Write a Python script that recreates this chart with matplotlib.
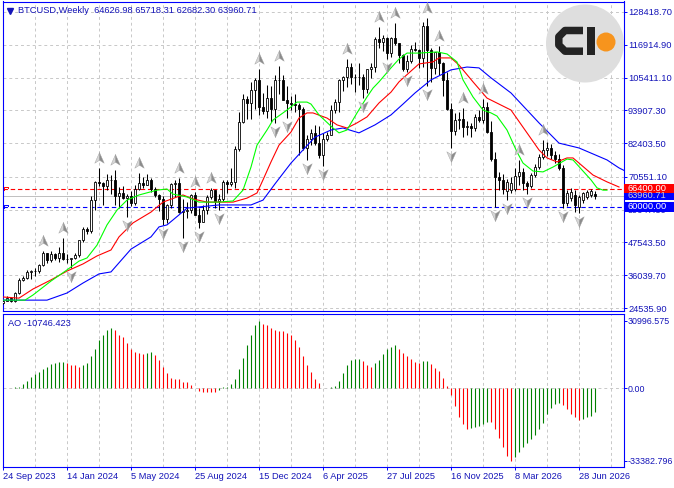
import numpy as np
import matplotlib.pyplot as plt
import matplotlib.transforms as mtransforms
from matplotlib.path import Path
from matplotlib.patches import Circle, Rectangle

plt.rcParams['font.family'] = ['Liberation Sans', 'DejaVu Sans']

# weekly BTCUSD bars, bar 0 = week of 24 Sep 2023
opens = [26300, 27000, 27900, 26900, 29900, 34500, 35000, 37100, 37400, 37500,
         39500, 43800, 41400, 43600, 42200, 43900, 41700, 41600, 42000, 43000,
         48300, 52100, 51700, 62400, 68900, 68400, 67200, 69600, 69300, 63900,
         64900, 63100, 63900, 61500, 66300, 68500, 67700, 69600, 66200, 64300,
         62700, 55900, 60800, 68200, 68300, 58100, 58700, 59000, 64200, 57300,
         54800, 59100, 63600, 65800, 62000, 62900, 68900, 67900, 68700, 80400,
         89900, 98000, 96400, 101200, 104500, 95200, 93700, 98400, 94500, 104400,
         104700, 97700, 96500, 96100, 95800, 94300, 80700, 84000, 86100, 82400,
         78400, 83800, 85100, 94000, 96900, 104600, 105500, 109000, 105700, 105600,
         105500, 101400, 108300, 109200, 119000, 117900, 119400, 114200, 119300, 117400,
         113500, 108300, 111100, 115300, 115200, 112100, 123500, 115200, 108600, 114500,
         110500, 104700, 94200, 86800, 90400, 90900, 88000, 88300, 87700, 91700,
         90500, 95200, 86400, 76800, 70600, 69300, 65600, 66100, 66300, 71000,
         72400, 68300, 67400, 71200, 74100, 77700, 80000, 80800, 78200, 77000,
         73600, 61400, 63300, 64200, 60100, 62400, 63600, 64300, 64626.98]
highs = [27400, 28600, 28100, 30300, 35200, 35900, 37900, 37900, 38400, 40000,
         44700, 44000, 44400, 43800, 45900, 49000, 43500, 42200, 43800, 48500,
         52800, 52900, 64000, 69000, 73800, 68900, 71700, 71300, 72800, 66900,
         67200, 64700, 65500, 67700, 71900, 70600, 71600, 70200, 66900, 64500,
         63800, 61000, 68400, 69400, 70000, 62700, 61800, 64500, 65100, 59800,
         60600, 64100, 66500, 66100, 64500, 69400, 69500, 73600, 81500, 93400,
         99500, 98900, 103900, 105300, 108300, 99900, 102700, 102500, 106400, 109600,
         106400, 102500, 98800, 99500, 96500, 95000, 85300, 87400, 88800, 88500,
         86100, 86400, 95800, 97900, 105000, 105800, 111900, 110400, 106700, 110600,
         106600, 108500, 110500, 119500, 123200, 120200, 119800, 119500, 124500, 117600,
         113600, 113400, 116800, 117900, 115500, 125000, 126200, 115900, 114000, 116400,
         110700, 107500, 96600, 93100, 93200, 94600, 90000, 89500, 92500, 94000,
         97900, 97000, 90000, 79200, 72300, 71500, 69800, 70500, 73500, 76500,
         73500, 69200, 72000, 75000, 78600, 83600, 82800, 82000, 79500, 78500,
         74800, 66000, 66500, 65800, 64200, 65200, 66000, 66400, 65718.31]
lows = [26000, 26900, 26600, 26800, 29600, 33900, 34600, 34800, 35700, 36900,
        39200, 40200, 40600, 41500, 40800, 41500, 40300, 38500, 41800, 42300,
        47700, 50600, 50900, 59000, 67500, 60800, 66000, 64500, 60700, 59600,
        62800, 56500, 60200, 60800, 66100, 66600, 67600, 65100, 63400, 58500,
        53500, 54300, 59800, 63400, 58000, 49000, 56100, 57800, 57200, 52600,
        54600, 57600, 62700, 59800, 58900, 62000, 65000, 67500, 66800, 79500,
        89400, 90800, 91000, 94200, 92200, 92500, 91300, 89900, 89300, 99500,
        97400, 91200, 94100, 93300, 78200, 80000, 76600, 81800, 81600, 77200,
        74400, 83000, 85100, 92800, 93400, 100700, 102100, 103000, 100400, 102700,
        98200, 100000, 105100, 107400, 115800, 114700, 112000, 112700, 116800, 110600,
        107600, 107200, 110600, 114600, 108600, 109000, 102500, 104000, 106700, 106300,
        98900, 94000, 80600, 85300, 87200, 84700, 85300, 84500, 86800, 89900,
        89500, 85800, 76000, 60000, 65800, 64500, 62400, 65000, 65500, 67600,
        66000, 64600, 66800, 70500, 73200, 76900, 77800, 77000, 75300, 72800,
        59500, 60200, 62000, 58300, 57900, 61500, 62800, 63600, 62682.30]
closes = [27000, 27900, 26900, 29900, 34500, 35000, 37100, 37400, 37500, 39500,
          43800, 41400, 43600, 42200, 43900, 41700, 41600, 42000, 43000, 48300,
          52100, 51700, 62400, 68900, 68400, 67200, 69600, 69300, 63900, 64900,
          63100, 63900, 61500, 66300, 68500, 67700, 69600, 66200, 64300, 62700,
          55900, 60800, 68200, 68300, 58100, 58700, 59000, 64200, 57300, 54800,
          59100, 63600, 65800, 62000, 62900, 68900, 67900, 68700, 80400, 89900,
          98000, 96400, 101200, 104500, 95200, 93700, 98400, 94500, 104400, 104700,
          97700, 96500, 96100, 95800, 94300, 80700, 84000, 86100, 82400, 78400,
          83800, 85100, 94000, 96900, 104600, 105500, 109000, 105700, 105600, 105500,
          101400, 108300, 109200, 119000, 117900, 119400, 114200, 119300, 117400, 113500,
          108300, 111100, 115300, 115200, 112100, 123500, 115200, 108600, 114500, 110500,
          104700, 94200, 86800, 90400, 90900, 88000, 88300, 87700, 91700, 90500,
          95200, 86400, 76800, 70600, 69300, 66400, 68900, 68300, 71000, 72400,
          68300, 67400, 71200, 74100, 77700, 80000, 80800, 78200, 77000, 73600,
          61400, 64800, 65400, 60700, 63600, 64800, 65400, 65600, 63960.71]

# Awesome Oscillator values per bar
ao = [50, 100, 150, 400, 770, 2000, 3550, 5400, 6630, 7710,
      8940, 10020, 11100, 11570, 12030, 12180, 11570, 10790, 10490, 10020,
      10790, 11870, 14650, 18200, 22360, 24360, 26990, 27760, 26990, 24670,
      23440, 20820, 18200, 16500, 16190, 15880, 16190, 16500, 15420, 12800,
      10020, 6940, 4630, 4320, 4200, 3080, 3000, 1540, -100, -1230,
      -1540, -1700, -1850, -1900, -770, 460, 770, 2000, 4470, 8940,
      13880, 19740, 24670, 28990, 30996.575, 29760, 28990, 27760, 26990, 26520,
      26370, 25440, 24670, 22360, 18810, 14650, 10790, 7710, 4320, 2620,
      200, 300, 600, 1080, 3390, 6940, 10790, 13110, 13420, 13570,
      12640, 10790, 10020, 11570, 13110, 15730, 18040, 18970, 19740, 18200,
      16190, 14650, 13570, 12030, 11570, 12340, 12640, 11260, 9250, 8170,
      4930, 1080, -3080, -8020, -13420, -16500, -18970, -18500, -18040, -17420,
      -16500, -15420, -15730, -18810, -23130, -26990, -31150, -33382.796, -31610, -29300,
      -27290, -25440, -23590, -21590, -18970, -16190, -12030, -8940, -7400, -6940,
      -7710, -9710, -11870, -13110, -14650, -14340, -13420, -12640, -10746.423]

# Alligator lines (bar index, price)
jaw_idx = [0, 11, 16, 20, 24, 27, 32, 37, 39, 41, 44, 46, 49, 54, 62, 65, 68, 72, 75, 78,
           82, 85, 89, 93, 97, 100, 103, 107, 112, 116, 119, 122, 127, 134, 139, 144, 147, 151, 154, 156]
jaw = [27300, 27300, 29800, 33300, 36500, 37200, 45200, 49500, 53000, 53700, 57200, 59600, 60000,
       60700, 60700, 62400, 68100, 75400, 80000, 84500, 87000, 87700, 86000, 88800, 92300, 96100,
       100000, 104600, 108100, 109100, 108800, 105300, 100000, 89500, 82400, 80700, 78900, 76500,
       73700, 72300]
teeth_idx = [0, 4, 7.5, 12, 16, 20, 23.5, 27, 29, 32.5, 37, 40, 43.5, 45, 47.5, 51, 57.5, 61, 63.5,
             65, 67, 69, 72, 74, 76, 77.5, 81, 83.5, 86, 88.5, 91, 94, 97, 99, 102, 104, 107.5, 109,
             112, 114, 117.5, 121, 124, 127, 131, 134, 136, 138.5, 141, 142.5, 147.5, 151, 154]
teeth = [28400, 28000, 31200, 34400, 37500, 40000, 42800, 44900, 49500, 54400, 58200, 61700,
         63500, 64200, 62800, 61700, 61700, 63100, 64900, 69500, 75800, 81700, 86300, 91200, 93000,
         93000, 91200, 88800, 87700, 89500, 91600, 96500, 100300, 103900, 107700, 110200, 110900,
         112300, 112300, 109800, 103900, 98200, 96100, 94000, 86000, 80000, 77200, 75800, 77200,
         77200, 71200, 68800, 67000]
lips_idx = [0, 5.5, 7.5, 12, 16, 19, 21, 23.5, 26, 28.5, 31, 34, 38.5, 41, 42.5, 46, 49, 54, 57.5,
            60, 62, 63.5, 66, 67.5, 71, 73.5, 76, 77, 79, 82.5, 84, 86, 88.5, 91, 92.5, 94, 97, 99,
            101, 104, 108.5, 111, 113.5, 115, 117.5, 120, 122, 123.5, 126, 128.5, 130, 132.5, 135,
            137.5, 141, 142.5, 145, 147, 148.5, 150, 151]
lips = [27300, 27300, 29100, 34000, 37900, 41000, 42100, 46600, 53700, 58900, 62400, 64200,
        65900, 66300, 64500, 63500, 61700, 61700, 62100, 65900, 74000, 81700, 87000, 90500, 94000,
        96800, 96800, 96100, 92300, 87700, 86000, 87000, 93000, 98600, 101700, 103900, 108800,
        111900, 114000, 114000, 114400, 113700, 110900, 104600, 98600, 94000, 93000, 91900, 87000,
        79300, 75400, 72600, 72300, 74000, 76800, 76500, 72600, 69500, 66700, 65900, 65900]

# fractal bars
fractal_up = [10, 15, 24, 28, 34, 44, 48, 52, 64, 69, 86, 94, 98, 106, 109, 115, 120, 129, 135]
fractal_down = [17, 31, 40, 45, 49, 54, 68, 71, 76, 80, 90, 96, 101, 106, 112, 123, 126, 131, 140, 144]

level_red = 66400.00
level_blue = 60000.00

price_ticks = [128418.70, 116914.90, 105411.10, 93907.30, 82403.50, 70551.10,
               59047.30, 47543.50, 36039.70, 24535.90]
ao_ticks = [30996.575, 0.0, -33382.796]
ao_tick_labels = ['30996.575', '0.00', '-33382.796']
date_idx = [0, 16, 32, 48, 64, 80, 96, 112, 128, 144]
date_labels = ['24 Sep 2023', '14 Jan 2024', '5 May 2024', '25 Aug 2024', '15 Dec 2024',
               '6 Apr 2025', '27 Jul 2025', '16 Nov 2025', '8 Mar 2026', '28 Jun 2026']

o, h, l, c = (np.array(v, dtype=float) for v in (opens, highs, lows, closes))
idx = np.arange(len(c))

FRAME = '#0000ff'
TXT = '#1414b8'
GRID = '#c8c8c8'
W, H = 674, 488

fig = plt.figure(figsize=(6.74, 4.88), dpi=100)


def box(x0, y0, x1, y1):
    return [x0 / W, 1 - y1 / H, (x1 - x0) / W, (y1 - y0) / H]


ax = fig.add_axes(box(2.5, 1.5, 623.5, 310.5))
ax2 = fig.add_axes(box(2.5, 313.5, 623.5, 466.5))

for a in (ax, ax2):
    a.set_xlim(-0.125, 155.125)
    for s in a.spines.values():
        s.set_color(FRAME)
        s.set_linewidth(0.8)
    a.set_xticks(date_idx)
    a.set_xticks(np.arange(8, 156, 16), minor=True)
    a.grid(True, axis='x', which='both', color=GRID, ls=(0, (3, 3)), lw=0.7, zorder=0)
    a.tick_params(axis='x', which='minor', length=0)
    a.yaxis.tick_right()
    a.tick_params(axis='y', direction='out', length=2.2, width=0.7, color=FRAME,
                  labelcolor=TXT, labelsize=6.7, pad=1.1)

# ---- main price panel ----
ax.set_ylim(23660, 132100)
ax.set_yticks(price_ticks)
ax.set_yticklabels([f'{v:.2f}' for v in price_ticks])
ax.grid(True, axis='y', color=GRID, ls=(0, (3, 3)), lw=0.7, zorder=0)
ax.tick_params(axis='x', which='both', length=0, labelbottom=False)

ax.axhline(c[-1], color='#c0c0c0', lw=0.7, zorder=1)
ax.axhline(level_red, color='#ff0000', lw=0.8, ls=(0, (4, 2.5)), zorder=2)
ax.axhline(level_blue, color='#0000ff', lw=0.8, ls=(0, (4, 2.5)), zorder=2)

ax.vlines(idx, l, h, color='black', lw=0.75, zorder=3)
ax.bar(idx, np.abs(c - o), width=0.55, bottom=np.minimum(o, c),
       color=np.where(c >= o, 'white', 'black'), edgecolor='black', linewidth=0.6, zorder=4)

ax.plot(jaw_idx, jaw, color='#0000ff', lw=0.8, zorder=5)
ax.plot(teeth_idx, teeth, color='#ff0000', lw=0.8, zorder=5)
ax.plot(lips_idx, lips, color='#00ff00', lw=0.8, zorder=5)

# fractal arrows, two-tone
left_up = Path([(0, 1), (0, -0.3), (-0.8, -0.8), (0, 1)])
right_up = Path([(0, 1), (0.8, -0.8), (0, -0.3), (0, 1)])
left_dn = Path([(0, -1), (0, 0.3), (-0.8, 0.8), (0, -1)])
right_dn = Path([(0, -1), (0.8, 0.8), (0, 0.3), (0, -1)])
t_up = mtransforms.offset_copy(ax.transData, fig=fig, x=0, y=10, units='dots')
t_dn = mtransforms.offset_copy(ax.transData, fig=fig, x=0, y=-8, units='dots')
for mk, col in ((left_up, '#d6d6d6'), (right_up, '#8c8c8c')):
    ax.plot(fractal_up, h[fractal_up], ls='none', marker=mk, ms=8.5, mfc=col, mec='#a0a0a0',
            mew=0.3, transform=t_up, zorder=6)
for mk, col in ((left_dn, '#d6d6d6'), (right_dn, '#8c8c8c')):
    ax.plot(fractal_down, l[fractal_down], ls='none', marker=mk, ms=8.5, mfc=col, mec='#a0a0a0',
            mew=0.3, transform=t_dn, zorder=6)

# ---- AO panel ----
ao_arr = np.array(ao)
ao_col = np.where(np.diff(ao_arr, prepend=ao_arr[0] - 1) >= 0, '#008000', '#ff0000')
ax2.set_ylim(-36050, 34450)
ax2.vlines(idx, 0, ao_arr, colors=ao_col, lw=0.8, zorder=3)
ax2.axhline(0, color=GRID, ls=(0, (3, 3)), lw=0.7, zorder=1)
ax2.set_yticks(ao_ticks)
ax2.set_yticklabels(ao_tick_labels)
ax2.tick_params(axis='y', labelsize=6.4)
ax2.set_xticklabels(date_labels, ha='left')
ax2.tick_params(axis='x', which='major', direction='out', length=2.5, width=0.7, color=FRAME,
                labelcolor=TXT, labelsize=6.7, pad=1.5)

# ---- overlay in pixel coordinates ----
ov = fig.add_axes([0, 0, 1, 1], zorder=10)
ov.set_xlim(0, W)
ov.set_ylim(H, 0)
ov.axis('off')
ov.patch.set_alpha(0)


def ypx(a, v):
    return H - a.transData.transform((0, v))[1]


ov.plot([9.5], [10.5], marker='v', ms=4, color=TXT, ls='none')
ov.text(18, 10.5, f'BTCUSD,Weekly  {o[-1]:.2f} {h[-1]:.2f} {l[-1]:.2f} {c[-1]:.2f}',
        fontsize=6.7, color=TXT, va='center', ha='left')
ov.text(8, 323, f'AO {ao[-1]:.3f}', fontsize=6.7, color=TXT, va='center', ha='left')

# price labels on the right (they overlap as in the terminal)
for val, fc, tc in ((c[-1], '#0000ff', '#d0d0d0'), (level_blue, '#0000ff', 'white'),
                    (level_red, '#ff0000', 'white')):
    yy = ypx(ax, val)
    ov.add_patch(Rectangle((624, yy - 4.6), 50, 9.2, fc=fc, ec='none'))
    ov.text(628, yy, f'{val:.2f}', fontsize=6.7, color=tc, va='center', ha='left')

# small level flags at the left edge
for val, col in ((level_red, '#ff0000'), (level_blue, '#0000ff')):
    yy = ypx(ax, val)
    ov.plot([4, 4, 8, 8], [yy + 1.5, yy - 1.5, yy - 1.5, yy - 0.5], color=col, lw=0.7)

# logo
ov.add_patch(Circle((585, 43.5), 39, fc='#dedede', ec='none'))
ov.plot([583, 565, 558.8, 558.8, 565, 583], [30.5, 30.5, 36.7, 45, 51.2, 51.2],
        color='#232323', lw=5.4, solid_joinstyle='round', solid_capstyle='butt')
ov.add_patch(Rectangle((587.3, 26.8), 7.7, 28.4, fc='#232323', ec='none'))
ov.add_patch(Circle((606, 42), 9.5, fc='#f7941d', ec='none'))

fig.savefig('out.png', dpi=100)
